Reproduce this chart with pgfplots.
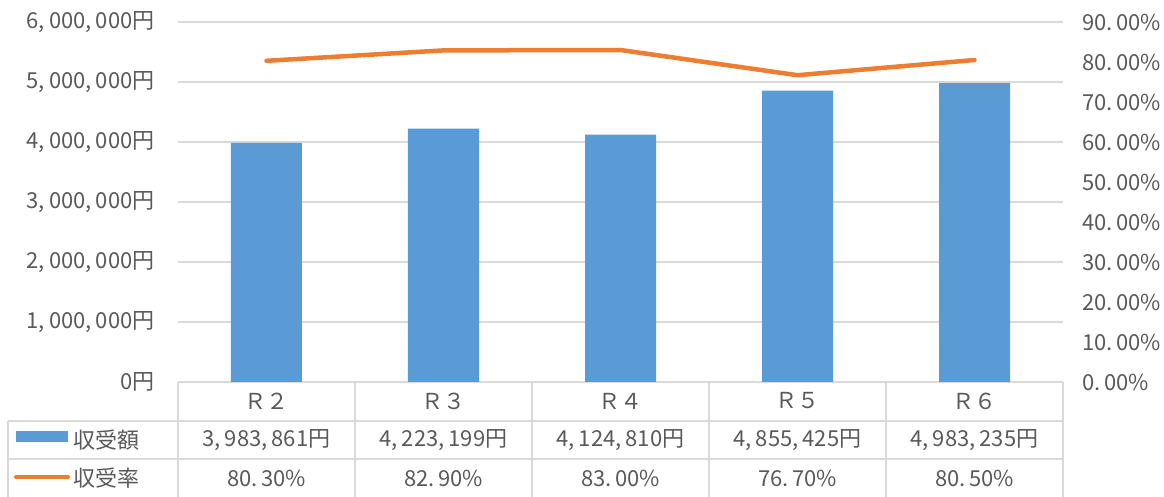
\documentclass[border=0pt]{standalone}
\usepackage{pgfplots}
\pgfplotsset{compat=1.18}
\usepackage{fontspec}
\setmainfont{Noto Sans CJK JP}
\definecolor{barblue}{HTML}{5B9BD5}
\definecolor{lineorange}{HTML}{ED7D31}
\definecolor{gridgray}{HTML}{D9D9D9}
\definecolor{txtgray}{HTML}{595959}
\newcommand{\cm}{,\hspace{4pt}}
\newcommand{\pd}{.\hspace{3.5pt}}
\newcommand{\fs}{\fontsize{22}{26}\selectfont}
\begin{document}
\fs
\begin{tikzpicture}
\useasboundingbox (-178pt,-115pt) rectangle (986pt,382pt);
\begin{axis}[
  at={(0,0)}, anchor=south west,
  scale only axis, width=885pt, height=360pt,
  xmin=-0.5, xmax=4.5, ymin=0, ymax=6000000,
  scaled y ticks=false,
  xtick=\empty,
  ytick={0,1000000,2000000,3000000,4000000,5000000,6000000},
  yticklabels={{0円},{1\cm000\cm000円},{2\cm000\cm000円},{3\cm000\cm000円},{4\cm000\cm000円},{5\cm000\cm000円},{6\cm000\cm000円}},
  ymajorgrids, grid style={gridgray, line width=1.3pt},
  axis line style={draw=none},
  major tick length=0pt,
  yticklabel style={txtgray, font=\fs, xshift=-16pt},
  ybar, bar width=71pt,
  clip=false,
]
\addplot[fill=barblue, draw=none] coordinates {(0,3983861) (1,4223199) (2,4124810) (3,4855425) (4,4983235)};
\node[txtgray] at ([yshift=-19pt]axis cs:0,0) {Ｒ２};
\node[txtgray] at ([yshift=-19pt]axis cs:1,0) {Ｒ３};
\node[txtgray] at ([yshift=-19pt]axis cs:2,0) {Ｒ４};
\node[txtgray] at ([yshift=-19pt]axis cs:3,0) {Ｒ５};
\node[txtgray] at ([yshift=-19pt]axis cs:4,0) {Ｒ６};
\node[txtgray] at ([yshift=-58pt]axis cs:0,0) {3\cm983\cm861円};
\node[txtgray] at ([yshift=-58pt]axis cs:1,0) {4\cm223\cm199円};
\node[txtgray] at ([yshift=-58pt]axis cs:2,0) {4\cm124\cm810円};
\node[txtgray] at ([yshift=-58pt]axis cs:3,0) {4\cm855\cm425円};
\node[txtgray] at ([yshift=-58pt]axis cs:4,0) {4\cm983\cm235円};
\node[txtgray] at ([yshift=-96pt]axis cs:0,0) {80\pd30\%};
\node[txtgray] at ([yshift=-96pt]axis cs:1,0) {82\pd90\%};
\node[txtgray] at ([yshift=-96pt]axis cs:2,0) {83\pd00\%};
\node[txtgray] at ([yshift=-96pt]axis cs:3,0) {76\pd70\%};
\node[txtgray] at ([yshift=-96pt]axis cs:4,0) {80\pd50\%};
\end{axis}
\begin{axis}[
  at={(0,0)}, anchor=south west,
  scale only axis, width=885pt, height=360pt,
  xmin=-0.5, xmax=4.5, ymin=0, ymax=0.9,
  axis y line*=right, axis x line=none,
  ytick={0,0.1,0.2,0.3,0.4,0.5,0.6,0.7,0.8,0.9},
  yticklabels={0\pd00\%,10\pd00\%,20\pd00\%,30\pd00\%,40\pd00\%,50\pd00\%,60\pd00\%,70\pd00\%,80\pd00\%,90\pd00\%},
  axis line style={draw=none},
  major tick length=0pt,
  yticklabel style={txtgray, font=\fs, xshift=12pt},
  clip=false,
]
\addplot[lineorange, line width=4.5pt, line cap=round, line join=round, mark=none] coordinates {(0,0.803) (1,0.829) (2,0.830) (3,0.767) (4,0.805)};
\end{axis}
\begin{scope}[gridgray, line width=1.3pt]
\draw (-170pt,-39pt) -- (885pt,-39pt);
\draw (-170pt,-77pt) -- (885pt,-77pt);
\foreach \x in {0,177,354,531,708,885} \draw (\x pt,0pt) -- (\x pt,-115pt);
\draw (-170pt,-39pt) -- (-170pt,-115pt);
\end{scope}
\fill[barblue] (-162pt,-49pt) rectangle (-110pt,-60pt);
\draw[lineorange, line width=4pt, line cap=round] (-162pt,-95pt) -- (-110pt,-95pt);
\node[txtgray, anchor=west, inner sep=0pt] at (-105pt,-58pt) {収受額};
\node[txtgray, anchor=west, inner sep=0pt] at (-105pt,-96pt) {収受率};
\end{tikzpicture}
\end{document}
